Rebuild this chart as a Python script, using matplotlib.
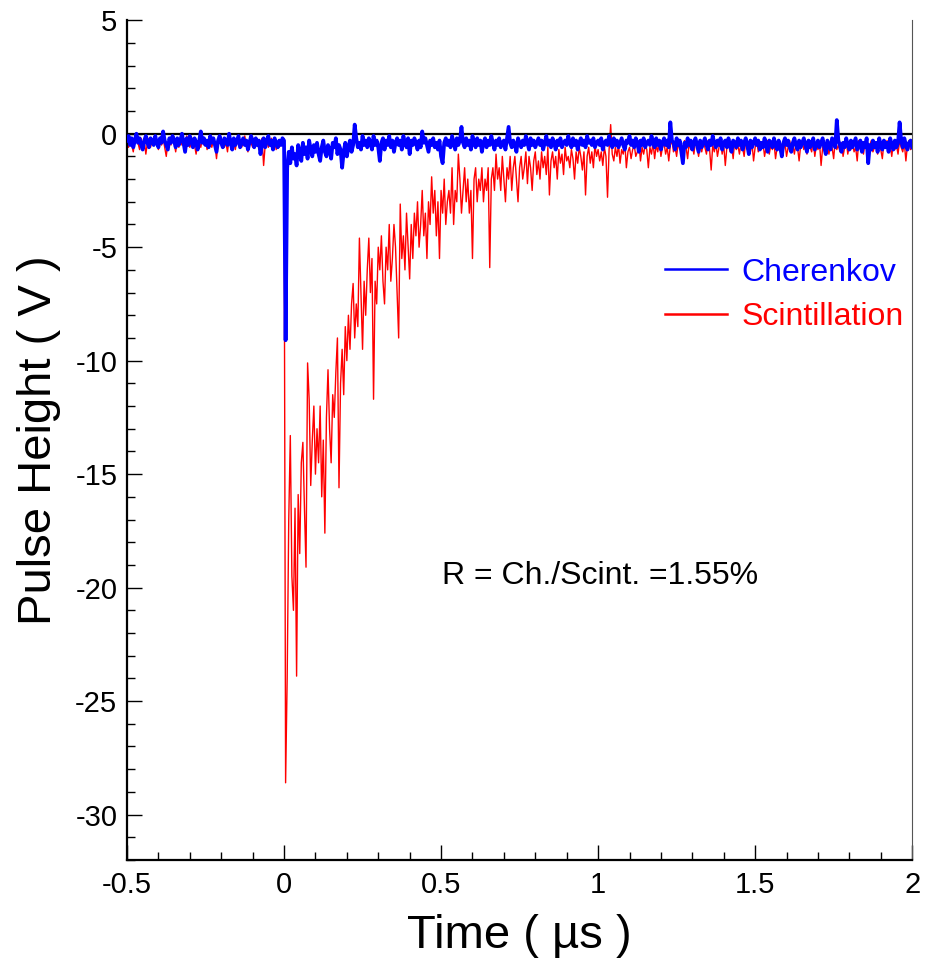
import numpy as np
import matplotlib.pyplot as plt
from matplotlib.ticker import MultipleLocator

# ======================================================
# Data (step 0.005 us, starting at -0.5 us)
# ======================================================

dt = 0.005
t_start = -0.5

# Scintillation (red) trace
red_pre = [
    -0.3, -0.6, -0.2, -0.5, -0.8, -0.3, -0.1, -0.4, -0.7, -0.2,
    -0.5, -0.3, -0.9, -0.4, -0.2, -0.6, -0.3, -0.5, -0.1, -0.4,
    -0.7, -0.3, -0.5, -0.2, -0.6, -1.0, -0.4, -0.3, -0.5, -0.2,
    -0.4, -0.8, -0.3, -0.6, -0.2, -0.5, -0.4, -0.7, -0.1, -0.3,
    -0.6, -0.4, -0.2, -0.5, -0.9, -0.3, -0.4, -0.6, -0.2, -0.5,
    -0.3, -0.7, -0.4, -0.2, -0.6, -0.3, -0.5, -1.1, -0.4, -0.2,
    -0.5, -0.3, -0.6, -0.4, -0.8, -0.2, -0.5, -0.3, -0.4, -0.7,
    -0.2, -0.5, -0.3, -0.6, -0.4, -0.1, -0.5, -0.8, -0.3, -0.4,
    -0.6, -0.2, -0.5, -0.3, -0.7, -0.4, -0.2, -1.4, -0.5, -0.3,
    -0.6, -0.4, -0.2, -0.5, -0.3, -0.7, -0.4, -0.6, -0.3, -0.5,
]
red_peak = [-0.5, -28.6]
red_post = [
    -24.0, -17.0, -13.3, -19.5, -21.0, -16.5, -23.9, -15.9, -18.5, -14.5,
    -13.6, -16.5, -19.1, -10.1, -11.7, -15.5, -13.5, -12.0, -15.0, -13.0,
    -14.5, -12.0, -16.0, -13.5, -17.6, -12.5, -10.4, -13.0, -14.5, -11.5,
    -12.5, -10.5, -9.0, -15.6, -11.0, -9.5, -11.5, -8.5, -10.0, -8.0,
    -9.5, -7.5, -6.6, -9.0, -7.5, -8.5, -4.6, -7.0, -9.5, -6.5,
    -8.0, -6.0, -4.6, -7.0, -5.5, -11.7, -6.5, -7.5, -5.0, -6.0,
    -4.5, -6.5, -7.5, -5.0, -6.0, -4.0, -6.5, -5.5, -4.0, -5.0,
    -7.0, -9.0, -3.1, -5.5, -4.5, -6.0, -3.5, -5.0, -6.4, -4.0,
    -5.5, -3.5, -4.5, -3.0, -5.0, -4.0, -2.5, -4.5, -3.5, -5.5,
    -3.0, -4.0, -1.9, -3.5, -2.5, -4.5, -3.0, -5.5, -2.5, -3.5,
    -2.0, -4.0, -3.0, -2.5, -3.5, -1.5, -4.0, -2.5, -3.0, -0.9,
    -2.0, -3.5, -2.5, -1.5, -3.0, -2.0, -3.5, -2.5, -5.5, -2.0,
    -1.5, -3.0, -2.0, -2.5, -1.5, -3.0, -2.0, -2.5, -1.5, -5.9,
    -2.0, -1.5, -2.5, -0.9, -2.0, -1.5, -2.5, -1.0, -2.0, -3.0,
    -1.5, -2.0, -1.0, -2.5, -1.5, -1.0, -2.0, -3.0, -1.5, -1.0,
    -2.0, -1.5, -0.8, -2.2, -1.0, -1.5, -2.5, -1.2, -0.8, -1.8,
    -1.2, -2.0, -0.8, -1.5, -1.0, -1.8, -0.6, -2.7, -1.2, -0.8,
    -1.5, -1.0, -2.0, -0.7, -1.3, -0.9, -1.8, -0.6, -1.2, -1.0,
    -1.5, -0.7, -1.1, -2.0, -0.8, -1.3, -0.6, -1.0, -1.6, -0.8,
    -2.7, -1.0, -0.6, -1.3, -0.8, -1.5, -0.5, -1.0, -0.7, -1.2,
    -0.8, -1.4, -0.6, -1.0, -2.8, -0.7, 0.4, -0.9, -1.2, -0.6,
    -1.0, -0.5, -1.3, -0.7, -0.9, -0.4, -1.5, -0.8, -0.6, -1.1,
    -0.7, -0.5, -1.0, -0.8, -0.4, -1.2, -0.6, -0.9, -0.5, -0.7,
    -1.5, -0.6, -0.9, -0.4, -1.1, -0.5, -0.8, -0.3, -1.0, -0.6,
    -0.4, -0.9, -0.6, -1.2, -0.5, -0.3, -0.8, -0.6, -1.0, -0.4,
    -0.7, -0.5, -0.9, -0.3, -0.6, -1.1, -0.4, -0.7, -0.5, -0.9,
    -0.3, -0.6, -1.0, -0.5, -0.8, -0.4, -0.6, -0.9, -0.3, -0.7,
    -1.6, -0.5, -0.8, -0.4, -1.0, -0.6, -0.3, -0.9, -0.5, -1.4,
    -0.6, -0.4, -0.8, -0.5, -1.1, -0.3, -0.7, -0.5, -0.9, -0.4,
    -0.6, -1.0, -0.3, -0.7, -0.5, -0.8, -0.4, -1.2, -0.6, -0.3,
    -0.8, -0.5, -0.7, -0.4, -1.0, -0.6, -0.3, -0.9, -0.5, -0.7,
    -0.4, -1.1, -0.6, -0.3, -0.8, -0.5, -0.7, -0.4, -1.0, -0.6,
    -0.3, -0.8, -0.5, -0.9, -0.4, -0.6, -1.2, -0.5, -0.3, -0.7,
    -0.5, -0.9, -0.4, -0.6, -0.8, -0.3, -1.0, -0.5, -0.7, -0.4,
    -1.4, -0.6, -0.3, -0.8, -0.5, -0.9, -0.4, -0.6, -1.1, -0.3,
    -0.7, -0.5, -0.8, -0.4, -1.0, -0.6, -0.3, -0.9, -0.5, -0.7,
    -0.4, -0.8, -0.6, -1.2, -0.3, -0.7, -0.5, -0.9, -0.4, -0.6,
    -1.0, -0.5, -0.3, -0.8, -0.6, -0.4, -0.9, -0.5, -0.7, -1.1,
    -0.4, -0.6, -0.3, -0.8, -0.5, -1.0, -0.4, -0.7, -0.5, -0.9,
    -0.3, -0.6, -0.8, -0.4, -1.2, -0.5, -0.3, -0.7, -0.6,
]

# Cherenkov (blue) trace
blue_pre = [
    -0.3, -0.1, -0.5, -0.2, -0.6, -0.3, 0.0, -0.4, -0.2, -0.5,
    -0.7, -0.3, -0.1, -0.4, -0.6, -0.2, -0.3, -0.5, -0.1, -0.4,
    -0.6, -0.2, -0.4, 0.1, -0.3, -0.5, -0.7, -0.2, -0.4, -0.1,
    -0.3, -0.6, -0.2, -0.5, -0.3, 0.0, -0.4, -0.8, -0.2, -0.5,
    -0.1, -0.3, -0.6, -0.2, -0.4, -0.7, -0.3, 0.1, -0.4, -0.2,
    -0.5, -0.3, -0.6, -0.1, -0.4, -0.2, -0.5, -0.8, -0.3, -0.1,
    -0.4, -0.6, -0.2, -0.3, -0.5, 0.0, -0.4, -0.7, -0.2, -0.5,
    -0.3, -0.1, -0.6, -0.4, -0.2, -0.5, -0.3, -0.7, -0.4, -0.1,
    -0.3, -0.6, -0.2, -0.5, -0.3, -0.9, -0.4, -0.2, -0.6, -0.3,
    -0.1, -0.5, -0.3, -0.7, -0.2, -0.4, -0.6, -0.3, -0.5, -0.2,
]
blue_peak = [-0.3, -9.1]
blue_post = [
    -1.5, -0.8, -1.3, -0.6, -1.1, -0.9, -1.4, -0.5, -0.8, -1.2,
    -0.4, -0.9, -0.6, -1.1, -0.3, -0.7, -1.0, -0.5, -0.8, -0.4,
    -0.9, -1.2, -0.6, -0.3, -0.8, -1.0, -0.5, -0.7, -1.1, -0.4,
    -0.6, -0.2, -0.9, -0.5, -0.7, -1.5, -0.8, -0.4, -1.0, -0.6,
    -0.3, -0.8, -0.5, 0.4, -0.2, -0.6, -0.4, -0.7, -0.1, -0.5,
    -0.3, -0.6, -0.2, -0.4, -0.7, -0.1, -0.5, -0.3, -0.6, -1.2,
    -0.4, -0.2, -0.7, -0.3, -0.5, -0.1, -0.6, -0.3, -0.8, -0.4,
    -0.2, -0.5, -0.3, -0.7, -0.1, -0.4, -0.6, -0.2, -0.9, -0.3,
    -0.5, -0.2, -0.4, -0.7, -0.3, -0.6, 0.1, -0.4, -0.2, -0.5,
    -0.8, -0.3, -0.5, -0.2, -0.6, -0.4, -0.7, -0.3, -1.0, -1.3,
    -0.4, -0.2, -0.5, -0.3, -0.6, -0.1, -0.4, -0.7, -0.2, -0.5,
    -0.3, 0.3, -0.4, -0.6, -0.2, -0.5, -0.3, -0.7, -0.1, -0.4,
    -0.6, -0.2, -0.5, -0.3, -0.8, -0.4, -0.2, -0.6, -0.3, -0.5,
    -0.1, -0.4, -0.7, -0.3, -0.5, -0.2, -0.6, -0.4, -0.3, -0.7,
    -0.2, 0.3, -0.4, -0.6, -0.3, -0.5, -0.8, -0.2, -0.4, -0.6,
    -0.3, -0.5, -0.1, -0.4, -0.7, -0.2, -0.5, -0.3, -0.6, -0.4,
    -0.2, -0.5, -0.3, -0.7, -0.4, -0.1, -0.5, -0.3, -0.6, -0.2,
    -0.4, -0.7, -0.3, -0.5, -0.2, -0.6, -0.4, -0.3, -0.5, -0.1,
    -0.4, -0.6, -0.2, -0.5, -0.3, -0.7, -0.4, -0.2, -0.5, -0.3,
    -0.6, -0.1, -0.4, -0.3, -0.5, -0.2, -0.6, -0.4, -0.3, -0.5,
    -0.2, -0.7, -0.4, -0.3, -0.5, -0.1, -0.4, -0.6, -0.2, -0.5,
    -0.3, -0.6, -0.4, -0.2, -0.5, -0.7, -0.3, -0.4, -0.1, -0.5,
    -0.3, -0.6, -0.2, -0.4, -0.8, -0.3, -0.5, -0.2, -0.6, -0.4,
    -0.3, -0.5, -0.1, -0.4, -0.6, -0.2, -0.5, -0.3, -0.7, -0.4,
    -0.2, -0.5, -0.3, -0.6, 0.5, -0.3, -0.4, -0.7, -0.2, -0.5,
    -0.3, -0.8, -1.3, -0.4, -0.6, -0.2, -0.5, -0.3, -0.7, -0.4,
    -0.2, -0.5, -0.8, -0.3, -0.6, -0.4, -0.2, -0.5, -0.7, -0.3,
    -0.5, -0.1, -0.4, -0.6, -0.3, -0.5, -0.2, -0.7, -0.4, -0.3,
    -0.6, -0.2, -0.5, -0.8, -0.3, -0.4, -0.6, -0.2, -0.5, -0.3,
    -0.7, -0.4, -0.2, -0.5, -0.9, -0.3, -0.6, -0.4, -0.2, -0.5,
    -0.3, -0.7, -0.4, -0.6, -0.2, -0.5, -0.8, -0.3, -0.4, -0.6,
    -0.2, -0.5, -0.7, -0.3, -0.6, -1.0, -0.4, -0.2, -0.5, -0.3,
    -0.6, -0.8, -0.4, -0.2, -0.5, -0.7, -0.3, -0.6, -0.4, -0.2,
    -0.5, -0.8, -0.3, -0.6, -0.4, -0.2, -0.7, -0.5, -0.3, -0.6,
    -0.4, -0.2, -0.6, -0.9, -0.3, -0.5, -0.7, -0.2, -0.4, -0.6,
    0.6, -0.3, -0.5, -0.8, -0.4, -0.6, -0.2, -0.5, -0.7, -0.3,
    -0.6, -0.4, -0.2, -0.7, -0.5, -0.3, -0.8, -0.4, -0.6, -0.2,
    -1.3, -0.5, -0.7, -0.3, -0.6, -0.4, -0.8, -0.2, -0.5, -0.7,
    -0.3, -0.6, -0.4, -0.8, -0.2, -0.5, -0.7, -0.3, -0.6, -0.4,
    0.5, -0.3, -0.6, -0.2, -0.5, -0.7, -0.4, -0.3, -0.6,
]

scint = np.array(red_pre + red_peak + red_post)
cher = np.array(blue_pre + blue_peak + blue_post)
t_scint = t_start + dt * np.arange(len(scint))
t_cher = t_start + dt * np.arange(len(cher))

ratio_text = "R = Ch./Scint. =1.55%"

# ======================================================
# Plot
# ======================================================

plt.rcParams['font.family'] = ['Liberation Sans', 'DejaVu Sans']

fig = plt.figure(figsize=(9.27, 9.63), dpi=100)
ax = fig.add_axes([0.137, 0.107, 0.847, 0.872])

ax.plot(t_scint, scint, color='red', lw=1.0, label='Scintillation', zorder=2)
ax.axhline(0, color='black', lw=1.6, zorder=3)
ax.plot(t_cher, cher, color='blue', lw=2.7, label='Cherenkov', zorder=4)

ax.set_xlim(-0.5, 2)
ax.set_ylim(-32, 5)

ax.xaxis.set_minor_locator(MultipleLocator(0.1))
ax.yaxis.set_minor_locator(MultipleLocator(1))
ax.set_xticks([-0.5, 0, 0.5, 1, 1.5, 2])
ax.set_xticklabels(['-0.5', '0', '0.5', '1', '1.5', '2'])
ax.set_yticks([5, 0, -5, -10, -15, -20, -25, -30])
ax.set_yticklabels(['5', '0', '-5', '-10', '-15', '-20', '-25', '-30'])

ax.tick_params(which='major', direction='in', length=11, width=1, labelsize=21, pad=8)
ax.tick_params(which='minor', direction='in', length=6, width=1)
ax.tick_params(axis='y', which='major', pad=7)

ax.spines['top'].set_visible(False)
ax.spines['left'].set_linewidth(1.6)
ax.spines['bottom'].set_linewidth(1.6)
ax.spines['right'].set_linewidth(0.8)
ax.spines['right'].set_color('#555555')

ax.set_xlabel('Time ( µs )', fontsize=34, labelpad=11)
ax.set_ylabel('Pulse Height ( V )', fontsize=34, labelpad=10)

handles, labels = ax.get_legend_handles_labels()
leg = ax.legend(handles[::-1], labels[::-1], loc='center left',
                bbox_to_anchor=(0.685, 0.673), frameon=False, fontsize=23,
                handlelength=1.95, handletextpad=0.45, labelspacing=0.45,
                borderpad=0, borderaxespad=0, labelcolor='linecolor')
for line in leg.get_lines():
    line.set_linewidth(1.8)

ax.text(0.503, -19.5, ratio_text, fontsize=23, va='center', ha='left')

fig.savefig('out.png', dpi=100)
